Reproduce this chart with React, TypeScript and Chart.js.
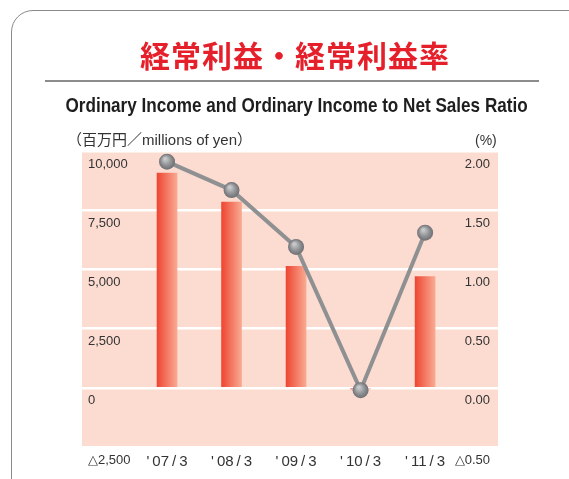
import React, { useEffect, useRef } from "react";
import { Chart, registerables } from "chart.js";

Chart.register(...registerables);

const categories = ["'07/3", "'08/3", "'09/3", "'10/3", "'11/3"];
const ordinaryIncome = [9070, 7840, 5130, -40, 4700];
const incomeRatio = [1.91, 1.67, 1.19, -0.02, 1.31];
const leftTicks = [-2500, 0, 2500, 5000, 7500, 10000];
const rightTicks = [-0.5, 0, 0.5, 1.0, 1.5, 2.0];

const BAR_W = 20;
const TS = "\u2009";

const bgPlugin = {
  id: "bgPlugin",
  beforeDraw(chart: any) {
    const { ctx, chartArea } = chart;
    ctx.save();
    ctx.fillStyle = "#FCDCD1";
    ctx.fillRect(chartArea.left, chartArea.top, chartArea.right - chartArea.left, chartArea.bottom - chartArea.top);
    ctx.restore();
  },
};

export default function App() {
  const ref = useRef<HTMLCanvasElement | null>(null);

  useEffect(() => {
    const canvas = ref.current;
    if (!canvas) return;
    const barColor = (c: any) => {
      const chart = c.chart;
      const xs = chart.scales?.x;
      if (!xs || c.dataIndex === undefined) return "#F06A55";
      const cx = xs.getPixelForValue(c.dataIndex);
      if (!Number.isFinite(cx)) return "#F06A55";
      const g = chart.ctx.createLinearGradient(cx - BAR_W / 2, 0, cx + BAR_W / 2, 0);
      g.addColorStop(0, "#EE4632");
      g.addColorStop(1, "#F9AA92");
      return g;
    };
    const pointColor = (c: any) => {
      const chart = c.chart;
      const xs = chart.scales?.x;
      const ys = chart.scales?.y1;
      if (!xs || !ys || c.dataIndex === undefined) return "#8a8a8a";
      const cx = xs.getPixelForValue(c.dataIndex);
      const cy = ys.getPixelForValue(incomeRatio[c.dataIndex]);
      if (!Number.isFinite(cx) || !Number.isFinite(cy)) return "#8a8a8a";
      const g = chart.ctx.createRadialGradient(cx - 2, cy - 3, 1, cx, cy, 8);
      g.addColorStop(0, "#C8C9CB");
      g.addColorStop(0.6, "#8E8F92");
      g.addColorStop(1, "#6E6F72");
      return g;
    };
    const chart = new Chart(canvas, {
      data: {
        datasets: [
          {
            type: "line",
            label: "ratio",
            data: incomeRatio.map((v, i) => ({ x: i, y: v })),
            yAxisID: "y1",
            xAxisID: "x",
            borderColor: "#8F9092",
            borderWidth: 4,
            pointRadius: 8,
            pointBackgroundColor: pointColor,
            pointBorderWidth: 0,
            order: 0,
            clip: false as any,
          } as any,
          {
            type: "bar",
            label: "income",
            data: ordinaryIncome.map((v, i) => ({ x: i, y: v })),
            yAxisID: "y",
            xAxisID: "x",
            backgroundColor: barColor,
            barThickness: BAR_W,
            borderWidth: 0,
            order: 1,
          } as any,
        ],
      },
      options: {
        animation: false,
        responsive: false,
        layout: { padding: { left: 70, right: 71, top: 151, bottom: 2 } },
        plugins: { legend: { display: false }, tooltip: { enabled: false } },
        scales: {
          x: {
            type: "linear",
            min: -1.318,
            max: 5.13,
            offset: false,
            grid: { display: false, drawTicks: false },
            border: { display: false },
            afterBuildTicks: (s: any) => {
              s.ticks = categories.map((_, i) => ({ value: i }));
            },
            ticks: {
              autoSkip: false,
              maxRotation: 0,
              padding: 6,
              color: "#333",
              font: { family: "Liberation Sans, Arial, sans-serif", size: 15 },
              callback: (v: any) => {
                const s = categories[Math.round(Number(v))] ?? "";
                return s.replace("'", "'" + TS).replace("/", TS + "/" + TS);
              },
            },
          },
          y: {
            type: "linear",
            position: "left",
            min: -2500,
            max: 10000,
            afterBuildTicks: (s: any) => {
              s.ticks = leftTicks.map((v) => ({ value: v }));
            },
            grid: { color: "#FFFFFF", lineWidth: 2.5, drawTicks: false },
            border: { display: false },
            ticks: {
              mirror: true,
              padding: 6,
              labelOffset: 13,
              color: "#333",
              font: { family: "Liberation Sans, Arial, sans-serif", size: 13 },
              callback: (v: any) => {
                const n = Number(v);
                if (n < 0) return "△" + Math.abs(n).toLocaleString("en-US");
                return n.toLocaleString("en-US");
              },
            },
          },
          y1: {
            type: "linear",
            position: "right",
            min: -0.5,
            max: 2.0,
            afterBuildTicks: (s: any) => {
              s.ticks = rightTicks.map((v) => ({ value: v }));
            },
            grid: { display: false, drawTicks: false },
            border: { display: false },
            ticks: {
              mirror: true,
              padding: -8,
              labelOffset: 13,
              color: "#333",
              font: { family: "Liberation Sans, Arial, sans-serif", size: 13 },
              callback: (v: any) => {
                const n = Number(v);
                if (n < 0) return "△" + Math.abs(n).toFixed(2);
                return n.toFixed(2);
              },
            },
          },
        },
      },
      plugins: [bgPlugin],
    } as any);
    return () => chart.destroy();
  }, []);

  return (
    <div style={{ position: "fixed", left: 0, top: 0, width: 569, height: 479, background: "#fff", overflow: "hidden" }}>
      <div
        style={{
          position: "absolute",
          left: 11,
          top: 10,
          width: 580,
          height: 500,
          border: "1.5px solid #8A8A8A",
          borderRadius: 22,
          boxSizing: "border-box",
        }}
      />
      <canvas ref={ref} width={569} height={479} style={{ position: "absolute", left: 0, top: 0 }} />
      <div
        style={{
          position: "absolute",
          left: 0,
          width: 590,
          top: 34,
          textAlign: "center",
          color: "#E5202B",
          fontFamily: "'Noto Sans CJK JP', sans-serif",
          fontWeight: 700,
          fontSize: 30,
          lineHeight: "40px",
          letterSpacing: 1,
        }}
      >
        経常利益・経常利益率
      </div>
      <div style={{ position: "absolute", left: 45, top: 80, width: 494, height: 0, borderTop: "2px solid #8C8C8C" }} />
      <div
        style={{
          position: "absolute",
          left: 0,
          width: 594,
          top: 92,
          textAlign: "center",
        }}
      >
        <span
          style={{
            display: "inline-block",
            transform: "scaleX(0.815)",
            transformOrigin: "center",
            whiteSpace: "nowrap",
            color: "#1E1E1E",
            fontFamily: "'Liberation Sans', Arial, sans-serif",
            fontWeight: 700,
            fontSize: 21,
            lineHeight: "26px",
          }}
        >
          Ordinary Income and Ordinary Income to Net Sales Ratio
        </span>
      </div>
      <div
        style={{
          position: "absolute",
          left: 67,
          top: 131,
          color: "#333",
          fontFamily: "'Liberation Sans', 'Noto Sans CJK JP', sans-serif",
          fontSize: 15,
          lineHeight: "18px",
        }}
      >
        （百万円／millions of yen）
      </div>
      <div
        style={{
          position: "absolute",
          left: 475,
          top: 131,
          color: "#333",
          fontFamily: "'Liberation Sans', sans-serif",
          fontSize: 14,
          lineHeight: "18px",
        }}
      >
        (%)
      </div>
    </div>
  );
}
